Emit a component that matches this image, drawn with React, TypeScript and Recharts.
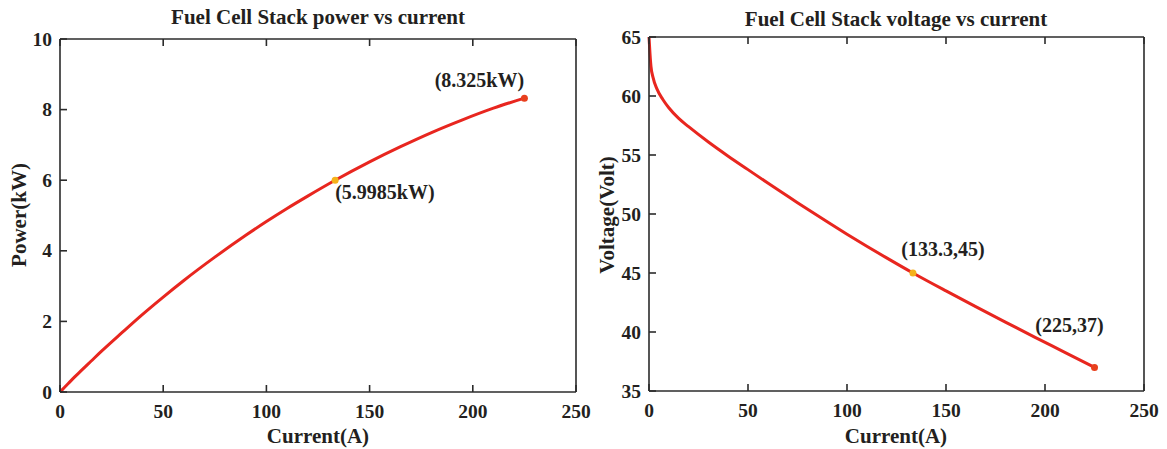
import { LineChart, Line, XAxis, YAxis, ReferenceDot } from "recharts";

// stack current (A)
const currentA = [0, 0.5, 1, 2, 4, 7, 10, 15, 20, 30, 40, 50, 60, 75, 90, 100, 110, 120, 133.3, 150, 165, 180, 195, 210, 225];
// stack power (kW)
const powerKW = [0, 0.03, 0.06, 0.12, 0.24, 0.42, 0.59, 0.87, 1.15, 1.68, 2.2, 2.69, 3.16, 3.82, 4.44, 4.83, 5.2, 5.55, 5.9985, 6.52, 6.95, 7.35, 7.71, 8.04, 8.325];
// stack voltage (V)
const voltageV = [65, 63.6, 62.5, 61.6, 60.6, 59.7, 59.0, 58.1, 57.4, 56.1, 54.9, 53.76, 52.62, 50.96, 49.34, 48.29, 47.27, 46.28, 45, 43.48, 42.15, 40.84, 39.55, 38.28, 37];

const currentTicks = [0, 50, 100, 150, 200, 250];
const powerTicks = [0, 2, 4, 6, 8, 10];
const voltageTicks = [35, 40, 45, 50, 55, 60, 65];

const markPower = { mid: { i: 133.3, v: 5.9985, text: "(5.9985kW)" }, end: { i: 225, v: 8.325, text: "(8.325kW)" } };
const markVoltage = { mid: { i: 133.3, v: 45, text: "(133.3,45)" }, end: { i: 225, v: 37, text: "(225,37)" } };

const rows = currentA.map((i, k) => ({ i, p: powerKW[k], v: voltageV[k] }));

const FONT = "'Liberation Serif', 'Times New Roman', serif";
const INK = "#231f20";
const RED = "#e8261f";
const AXIS = "#2b2b2b";
const TICK_LEN = 7;

// ticks point inward, drawn here together with the labels
const BottomTick = (props: any) => (
  <g>
    <line x1={props.x} y1={props.y} x2={props.x} y2={props.y - TICK_LEN} stroke={AXIS} strokeWidth={1.6} />
    <text x={props.x} y={props.y + 26} textAnchor="middle" fontFamily={FONT} fontWeight={700} fontSize={19.5} fill={INK}>
      {props.payload.value}
    </text>
  </g>
);

const LeftTick = (props: any) => (
  <g>
    <line x1={props.x} y1={props.y} x2={props.x + TICK_LEN} y2={props.y} stroke={AXIS} strokeWidth={1.6} />
    <text x={props.x - 8} y={props.y + 6.5} textAnchor="end" fontFamily={FONT} fontWeight={700} fontSize={19.5} fill={INK}>
      {props.payload.value}
    </text>
  </g>
);

const TopTick = (props: any) => (
  <line x1={props.x} y1={props.y} x2={props.x} y2={props.y + TICK_LEN} stroke={AXIS} strokeWidth={1.6} />
);

const RightTick = (props: any) => (
  <line x1={props.x} y1={props.y} x2={props.x - TICK_LEN} y2={props.y} stroke={AXIS} strokeWidth={1.6} />
);

const dotLabel = (text: string, dx: number, dy: number, anchor: "start" | "middle" | "end") => (props: any) => {
  const vb = props.viewBox || {};
  const cx = (vb.x ?? 0) + (vb.width ?? 0) / 2;
  const cy = (vb.y ?? 0) + (vb.height ?? 0) / 2;
  return (
    <text x={cx + dx} y={cy + dy} textAnchor={anchor} fontFamily={FONT} fontWeight={700} fontSize={20} fill={INK}>
      {text}
    </text>
  );
};

// box axes: inward ticks on all four sides (matlab style)
const boxAxes = (domainY: number[], ticksY: number[], yWidth: number, xHeight: number) => [
  <XAxis key="xb" dataKey="i" type="number" domain={[0, 250]} ticks={currentTicks}
    tickSize={0} tickMargin={0} tickLine={false} height={xHeight} tick={<BottomTick />}
    stroke={AXIS} strokeWidth={1.6} interval={0} />,
  <XAxis key="xt" xAxisId="top" orientation="top" dataKey="i" type="number" domain={[0, 250]} ticks={currentTicks}
    tickSize={0} tickMargin={0} tickLine={false} height={1} tick={<TopTick />}
    stroke={AXIS} strokeWidth={1.6} interval={0} />,
  <YAxis key="yl" type="number" domain={domainY} ticks={ticksY}
    tickSize={0} tickMargin={0} tickLine={false} width={yWidth} tick={<LeftTick />}
    stroke={AXIS} strokeWidth={1.6} interval={0} />,
  <YAxis key="yr" yAxisId="right" orientation="right" type="number" domain={domainY} ticks={ticksY}
    tickSize={0} tickMargin={0} tickLine={false} width={1} tick={<RightTick />}
    stroke={AXIS} strokeWidth={1.6} interval={0} />,
];

export default function App() {
  return (
    <div style={{ position: "absolute", left: 0, top: 0, width: 1167, height: 449, background: "#fff" }}>
      <div style={{ position: "absolute", left: 0, top: 0 }}>
        <LineChart width={605} height={449} data={rows} margin={{ top: 38, right: 28, bottom: 0, left: 0 }}>
          {boxAxes([0, 10], powerTicks, 60, 57)}
          <Line type="monotone" dataKey="p" stroke={RED} strokeWidth={3} dot={false} isAnimationActive={false} />
          <ReferenceDot x={markPower.mid.i} y={markPower.mid.v} r={3.5} fill="#f5b21a" stroke="none"
            label={dotLabel(markPower.mid.text, 0, 19, "start")} />
          <ReferenceDot x={markPower.end.i} y={markPower.end.v} r={3.5} fill="#e8401e" stroke="none"
            label={dotLabel(markPower.end.text, -45, -11, "middle")} />
        </LineChart>
      </div>
      <div style={{ position: "absolute", left: 585, top: 0 }}>
        <LineChart width={582} height={449} data={rows} margin={{ top: 36, right: 22, bottom: 0, left: 0 }}>
          {boxAxes([35, 65], voltageTicks, 64, 58)}
          <Line type="monotone" dataKey="v" stroke={RED} strokeWidth={3} dot={false} isAnimationActive={false} />
          <ReferenceDot x={markVoltage.mid.i} y={markVoltage.mid.v} r={3.5} fill="#f5b21a" stroke="none"
            label={dotLabel(markVoltage.mid.text, 30, -17, "middle")} />
          <ReferenceDot x={markVoltage.end.i} y={markVoltage.end.v} r={3.5} fill="#e8401e" stroke="none"
            label={dotLabel(markVoltage.end.text, -25, -35, "middle")} />
        </LineChart>
      </div>
      <svg width={1167} height={449} style={{ position: "absolute", left: 0, top: 0, pointerEvents: "none" }}
        fontFamily={FONT} fontWeight={700} fill={INK}>
        <text x={318} y={24} textAnchor="middle" fontSize={21}>Fuel Cell Stack power vs current</text>
        <text x={896} y={26} textAnchor="middle" fontSize={21}>Fuel Cell Stack voltage vs current</text>
        <text x={318} y={443} textAnchor="middle" fontSize={21}>Current(A)</text>
        <text x={896} y={443} textAnchor="middle" fontSize={21}>Current(A)</text>
        <text x={26} y={215} textAnchor="middle" fontSize={21} transform="rotate(-90 26 215)">Power(kW)</text>
        <text x={614} y={215} textAnchor="middle" fontSize={21} transform="rotate(-90 614 215)">Voltage(Volt)</text>
      </svg>
    </div>
  );
}
